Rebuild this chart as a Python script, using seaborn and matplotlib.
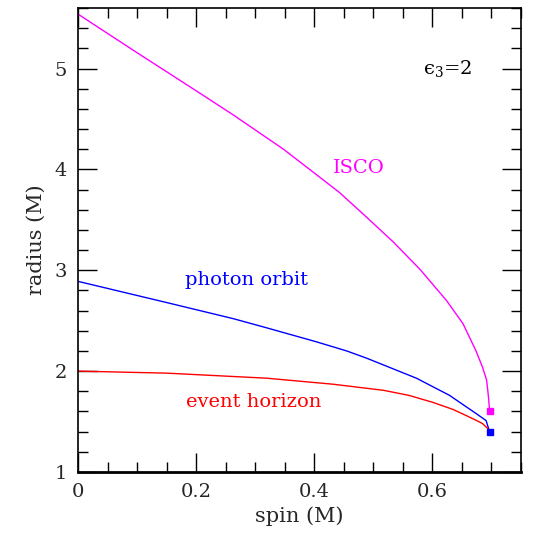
import pandas as pd
import matplotlib
matplotlib.use("Agg")
import matplotlib.pyplot as plt
import seaborn as sns
from matplotlib.ticker import MultipleLocator

# values
spin_isco = [0, 0.094, 0.2, 0.263, 0.348, 0.410, 0.443, 0.488, 0.534, 0.579, 0.624, 0.652,
             0.674, 0.685, 0.692, 0.695, 0.697]
r_isco = [5.54, 5.18, 4.78, 4.54, 4.20, 3.92, 3.77, 3.53, 3.28, 3.01, 2.70, 2.47,
          2.20, 2.04, 1.91, 1.75, 1.61]

spin_photon = [0, 0.15, 0.263, 0.319, 0.404, 0.455, 0.488, 0.573, 0.629, 0.674, 0.691, 0.697]
r_photon = [2.89, 2.68, 2.52, 2.43, 2.29, 2.20, 2.13, 1.93, 1.76, 1.58, 1.51, 1.40]

spin_horizon = [0, 0.15, 0.319, 0.432, 0.517, 0.560, 0.601, 0.635, 0.657, 0.675, 0.685, 0.694, 0.697]
r_horizon = [2.0, 1.98, 1.93, 1.87, 1.81, 1.76, 1.69, 1.62, 1.56, 1.51, 1.48, 1.43, 1.40]

end_spin = [0.697, 0.697]
end_r = [1.60, 1.40]
end_color = ["#ff00ff", "#0000ff"]

sns.set_style("ticks")
plt.rcParams["font.family"] = ["DejaVu Serif"]
plt.rcParams["mathtext.fontset"] = "dejavuserif"

fig = plt.figure(figsize=(5.46, 5.40), dpi=100)
ax = fig.add_axes([0.143, 0.126, 0.811, 0.859])

sns.lineplot(x=spin_isco, y=r_isco, color="#ff00ff", lw=1, sort=False, ax=ax)
sns.lineplot(x=spin_photon, y=r_photon, color="#0000ff", lw=1, sort=False, ax=ax)
sns.lineplot(x=spin_horizon, y=r_horizon, color="#ff0000", lw=1, sort=False, ax=ax)
for s, r, c in zip(end_spin, end_r, end_color):
    ax.plot(s, r, marker="s", ms=5, color=c, mec=c, zorder=4)

ax.set_xlim(0, 0.75)
ax.set_ylim(1, 5.6)
ax.xaxis.set_major_locator(MultipleLocator(0.2))
ax.xaxis.set_minor_locator(MultipleLocator(0.05))
ax.yaxis.set_major_locator(MultipleLocator(1))
ax.yaxis.set_minor_locator(MultipleLocator(0.2))
ax.set_xticks([0, 0.2, 0.4, 0.6])
ax.set_xticklabels(["0", "0.2", "0.4", "0.6"])
ax.tick_params(which="both", direction="in", top=True, right=True, labelsize=14, color="black")
ax.tick_params(which="major", length=14, width=1)
ax.tick_params(which="minor", length=7, width=1)
ax.tick_params(axis="x", pad=8)
ax.tick_params(axis="y", pad=8)
for sp in ax.spines.values():
    sp.set_visible(True)
    sp.set_linewidth(1.2)
    sp.set_color("black")
ax.spines["bottom"].set_linewidth(2)

ax.set_xlabel("spin (M)", fontsize=15, labelpad=4)
ax.set_ylabel("radius (M)", fontsize=15, labelpad=6)

ax.text(0.476, 4.01, "ISCO", color="#ff00ff", fontsize=14, ha="center", va="center")
ax.text(0.286, 2.90, "photon orbit", color="#0000ff", fontsize=14, ha="center", va="center")
ax.text(0.297, 1.69, "event horizon", color="#ff0000", fontsize=14, ha="center", va="center")
ax.text(0.625, 5.0, "\u03f5$_3$=2", color="black", fontsize=14, ha="center", va="center")

fig.savefig("out.png", dpi=100)
